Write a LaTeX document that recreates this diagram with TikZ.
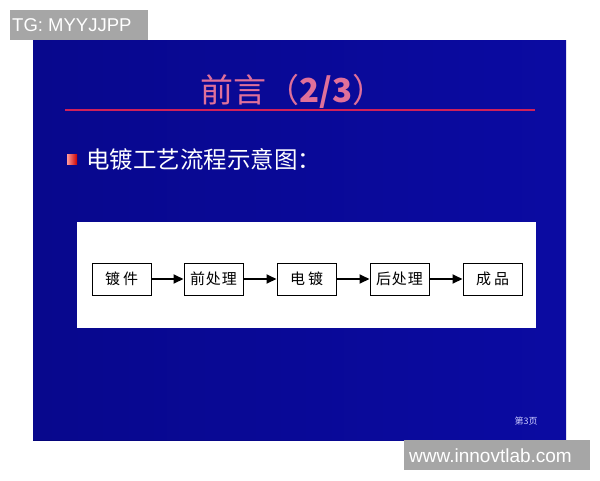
\documentclass[tikz,border=0pt]{standalone}
\usepackage{fontspec}
\setmainfont{Liberation Sans}
\newfontfamily\cjk{Noto Sans CJK SC}
\usetikzlibrary{arrows.meta}
\definecolor{slideblue}{HTML}{0B0BA2}
\definecolor{slidedark}{HTML}{050578}
\definecolor{titlepink}{HTML}{E0709A}
\definecolor{linered}{HTML}{D0205A}
\definecolor{tagray}{HTML}{A6A6A6}
\tikzset{
  procbox/.style={draw=black, line width=1pt, fill=white, minimum width=59pt, minimum height=32pt, inner sep=0pt, font=\cjk\fontsize{15}{17}\selectfont},
  flow/.style={-{Triangle[length=10pt,width=9pt]}, line width=2pt, black},
  tag/.style={fill=tagray, text=white, inner sep=0pt}
}
\begin{document}
\begin{tikzpicture}[x=1pt,y=-1pt]
\useasboundingbox (0,0) rectangle (600,480);
\fill[white] (0,0) rectangle (600,480);
% slide
\shade[left color=slidedark, right color=slideblue] (33,40) rectangle (566,440);
\fill[slideblue, opacity=0.5] (33,40) rectangle (566,440);
% tags
\node[tag, minimum width=138pt, minimum height=30pt, anchor=north west] (tg) at (10,10) {};
\node[text=white, font=\fontsize{18.5}{20}\selectfont, anchor=west, inner sep=0pt] (tgt) at (12,25) {TG: MYYJJPP};
\node[tag, minimum width=186pt, minimum height=30pt, anchor=north west] (www) at (404,440) {};
\node[text=white, font=\fontsize{19}{20}\selectfont, anchor=west, inner sep=0pt] (wwwt) at (409,456) {www.innovtlab.com};
% title
\node[text=titlepink, font=\cjk\fontsize{33}{36}\selectfont] (title) at (293,91) {前言（\textbf{2/3}）};
\coordinate (la) at (65,110);
\coordinate (lb) at (535,110);
\draw[linered, line width=2pt] (la) -- (lb);
% bullet
\shade[top color=red!60!white, bottom color=red!70!black, left color=red!40!white, right color=red!80!black] (67,154) rectangle (77,164);
\node[text=white, font=\cjk\fontsize{23.5}{26}\selectfont, anchor=west, inner sep=0pt] (bullet) at (86,159) {电镀工艺流程示意图：};
% white panel
\fill[white] (77,222) rectangle (536,328);
% process boxes
\node[procbox] (b1) at (121.5,279) {镀\hspace{3pt}件};
\node[procbox] (b2) at (213.5,279) {前\hspace{1pt}处\hspace{1pt}理};
\node[procbox] (b3) at (306.5,279) {电\hspace{3pt}镀};
\node[procbox] (b4) at (399.5,279) {后\hspace{1pt}处\hspace{1pt}理};
\node[procbox] (b5) at (492.5,279) {成\hspace{3pt}品};
\draw[flow] (b1) -- (b2);
\draw[flow] (b2) -- (b3);
\draw[flow] (b3) -- (b4);
\draw[flow] (b4) -- (b5);
% page number
\node[text=white!80!blue, font=\cjk\fontsize{9}{10}\selectfont] (page) at (526,421) {第3页};
\end{tikzpicture}
\end{document}
